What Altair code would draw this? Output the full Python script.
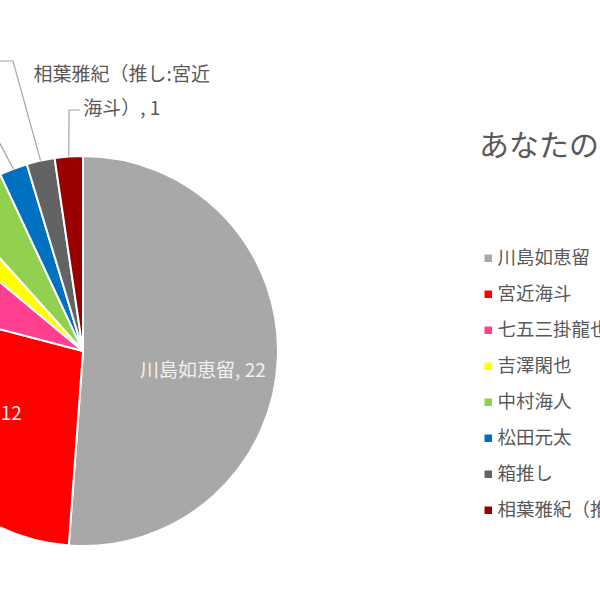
import math
import altair as alt
import pandas as pd

# ---- data ----
categories = ["川島如恵留", "宮近海斗", "七五三掛龍也", "吉澤閑也", "中村海人", "松田元太", "箱推し", "相葉雅紀（推し:宮近海斗）"]
values = [22, 12, 3, 1, 2, 1, 1, 1]
colors = ["#A9A8A8", "#FF0000", "#FF3F8F", "#FFFF00", "#92D050", "#0070C0", "#636363", "#990000"]
title_text = "あなたの推しは？"

FONT = "Noto Sans CJK JP"
TXT = "#595959"

labels = []
for c, v in zip(categories, values):
    if len(c) > 10:
        labels.append(c[:10] + "\n" + c[10:] + ", " + str(v))
    else:
        labels.append(f"{c}, {v}")

df = pd.DataFrame({"cat": categories, "value": values, "idx": list(range(len(values))), "label": labels})

# leader lines: start on the rim at the slice's mid angle, then to the label elbow
CX, CY, R = 83, 351, 195
total = sum(values)
elbows = {5: [(-13, 119), (-40, 119)], 6: [(13, 61), (-30, 61)], 7: [(69, 110), (80, 110)]}
rows = []
cum = 0
for i, v in enumerate(values):
    mid = (cum + v / 2) / total * 2 * math.pi
    cum += v
    if i in elbows:
        pts = [(CX + R * math.sin(mid), CY - R * math.cos(mid))] + elbows[i]
        for k, (px, py) in enumerate(pts):
            rows.append({"cat": categories[i], "pt": k, "px": px, "py": py})
lead_df = pd.DataFrame(rows)

base = alt.Chart(df)

pie = base.mark_arc(radius=R, stroke="white", strokeWidth=2).encode(
    theta=alt.Theta("value:Q", stack=True),
    order=alt.Order("idx:Q"),
    color=alt.Color(
        "cat:N",
        scale=alt.Scale(domain=categories, range=colors),
        sort=categories,
        legend=alt.Legend(
            orient="none", legendX=479, legendY=249, direction="vertical",
            title=None, symbolType="square", symbolSize=56, symbolStrokeWidth=0,
            labelFontSize=18.5, labelColor=TXT, labelFont=FONT, rowPadding=17,
            labelOffset=0, labelLimit=600, padding=0,
        ),
    ),
    x=alt.value(CX), y=alt.value(CY),
)

lab = (
    base.transform_joinaggregate(total="sum(value)")
    .transform_window(cum="sum(value)", sort=[alt.SortField("idx")], frame=[None, 0])
    .transform_calculate(frac="(datum.cum - datum.value / 2) / datum.total")
)
theta_mid = alt.Theta("frac:Q", scale=alt.Scale(domain=[0, 1], range=[0, 2 * math.pi]), stack=None)

lab_main = lab.transform_filter("datum.idx == 0").mark_text(
    radius=120, dy=16, fontSize=19, font=FONT, color="#F2F2F2"
).encode(theta=theta_mid, text="label:N", x=alt.value(CX), y=alt.value(CY))

lab_red = lab.transform_filter("datum.idx == 1").mark_text(
    radius=120, dx=-17, dy=-7, fontSize=19, font=FONT, color="#F2F2F2"
).encode(theta=theta_mid, text="label:N", x=alt.value(CX), y=alt.value(CY))

lab_aiba = lab.transform_filter("datum.idx == 7").mark_text(
    radius=250, dx=57, dy=-27, fontSize=19, font=FONT, color=TXT, lineBreak="\n", lineHeight=34
).encode(theta=theta_mid, text="label:N", x=alt.value(CX), y=alt.value(CY))

leaders = alt.Chart(lead_df).mark_line(color="#A6A6A6", strokeWidth=1.2).encode(
    x=alt.X("px:Q", scale=None, axis=None),
    y=alt.Y("py:Q", scale=None, axis=None),
    detail="cat:N",
    order="pt:Q",
)

title = alt.Chart(pd.DataFrame({"t": [title_text]})).mark_text(
    align="left", baseline="middle", fontSize=30, font=FONT, color=TXT
).encode(text="t:N", x=alt.value(479), y=alt.value(147))

chart = (
    alt.layer(pie, leaders, lab_main, lab_red, lab_aiba, title)
    .resolve_scale(theta="independent")
    .properties(width=600, height=600, autosize=alt.AutoSizeParams(type="none"), padding=0, background="white")
    .configure_view(stroke=None)
)

chart.save("out.html", embed_options={"renderer": "svg", "actions": False})
